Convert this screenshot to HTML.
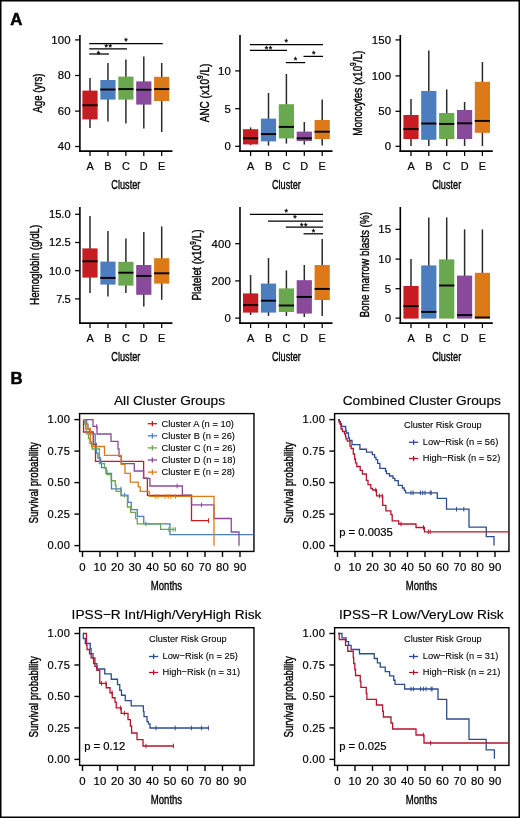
<!DOCTYPE html>
<html lang="en">
<head>
<meta charset="utf-8">
<title>Figure</title>
<style>
html,body{margin:0;padding:0;background:#fff;}
body{width:520px;height:818px;overflow:hidden;}
svg{display:block;font-family:'Liberation Sans', Arial, Helvetica, sans-serif;}
</style>
</head>
<body>
<svg width="520" height="818" viewBox="0 0 520 818">
<rect x="0" y="0" width="520" height="818" fill="#fff"/>
<rect x="0.75" y="0.75" width="518.5" height="816.5" fill="none" stroke="#000" stroke-width="1.5"/>
<line x1="79.90" y1="35.00" x2="79.90" y2="151.95" stroke="#000" stroke-width="1.6" />
<line x1="79.10" y1="151.15" x2="172.40" y2="151.15" stroke="#000" stroke-width="1.6" />
<line x1="75.10" y1="39.90" x2="79.90" y2="39.90" stroke="#000" stroke-width="1.25" />
<text transform="translate(70.90,43.80)" font-size="11.4" text-anchor="end" font-weight="normal" fill="#000" letter-spacing="0.2" stroke="#000" stroke-width="0.2" >100</text>
<line x1="75.10" y1="75.50" x2="79.90" y2="75.50" stroke="#000" stroke-width="1.25" />
<text transform="translate(70.90,79.40)" font-size="11.4" text-anchor="end" font-weight="normal" fill="#000" letter-spacing="0.2" stroke="#000" stroke-width="0.2" >80</text>
<line x1="75.10" y1="111.10" x2="79.90" y2="111.10" stroke="#000" stroke-width="1.25" />
<text transform="translate(70.90,115.00)" font-size="11.4" text-anchor="end" font-weight="normal" fill="#000" letter-spacing="0.2" stroke="#000" stroke-width="0.2" >60</text>
<line x1="75.10" y1="146.50" x2="79.90" y2="146.50" stroke="#000" stroke-width="1.25" />
<text transform="translate(70.90,150.40)" font-size="11.4" text-anchor="end" font-weight="normal" fill="#000" letter-spacing="0.2" stroke="#000" stroke-width="0.2" >40</text>
<line x1="90.00" y1="151.15" x2="90.00" y2="155.95" stroke="#000" stroke-width="1.25" />
<text transform="translate(90.00,170.05)" font-size="10.9" text-anchor="middle" font-weight="normal" fill="#000" stroke="#000" stroke-width="0.2" >A</text>
<line x1="107.95" y1="151.15" x2="107.95" y2="155.95" stroke="#000" stroke-width="1.25" />
<text transform="translate(107.95,170.05)" font-size="10.9" text-anchor="middle" font-weight="normal" fill="#000" stroke="#000" stroke-width="0.2" >B</text>
<line x1="125.90" y1="151.15" x2="125.90" y2="155.95" stroke="#000" stroke-width="1.25" />
<text transform="translate(125.90,170.05)" font-size="10.9" text-anchor="middle" font-weight="normal" fill="#000" stroke="#000" stroke-width="0.2" >C</text>
<line x1="143.80" y1="151.15" x2="143.80" y2="155.95" stroke="#000" stroke-width="1.25" />
<text transform="translate(143.80,170.05)" font-size="10.9" text-anchor="middle" font-weight="normal" fill="#000" stroke="#000" stroke-width="0.2" >D</text>
<line x1="161.70" y1="151.15" x2="161.70" y2="155.95" stroke="#000" stroke-width="1.25" />
<text transform="translate(161.70,170.05)" font-size="10.9" text-anchor="middle" font-weight="normal" fill="#000" stroke="#000" stroke-width="0.2" >E</text>
<text transform="translate(125.85,189.25) scale(0.6698540145985402,1)" font-size="13.7" text-anchor="middle" font-weight="normal" fill="#000" stroke="#000" stroke-width="0.4" >Cluster</text>
<text transform="translate(41.80,93.10) rotate(-90) scale(0.7057737226277373,1)" font-size="13.7" text-anchor="middle" fill="#000" stroke="#000" stroke-width="0.4">Age (yrs)</text>
<line x1="90.00" y1="78.00" x2="90.00" y2="128.00" stroke="#2b2b2b" stroke-width="1.5" />
<rect x="82.40" y="90.60" width="15.2" height="28.80" fill="#C51D21"/>
<line x1="82.40" y1="105.30" x2="97.60" y2="105.30" stroke="#000" stroke-width="1.9" />
<line x1="107.95" y1="63.00" x2="107.95" y2="121.60" stroke="#2b2b2b" stroke-width="1.5" />
<rect x="100.35" y="80.00" width="15.2" height="19.60" fill="#4C7DBE"/>
<line x1="100.35" y1="89.50" x2="115.55" y2="89.50" stroke="#000" stroke-width="1.9" />
<line x1="125.90" y1="59.40" x2="125.90" y2="123.60" stroke="#2b2b2b" stroke-width="1.5" />
<rect x="118.30" y="76.60" width="15.2" height="23.00" fill="#6AA84F"/>
<line x1="118.30" y1="89.10" x2="133.50" y2="89.10" stroke="#000" stroke-width="1.9" />
<line x1="143.80" y1="56.60" x2="143.80" y2="128.60" stroke="#2b2b2b" stroke-width="1.5" />
<rect x="136.20" y="81.40" width="15.2" height="23.20" fill="#8A4A9C"/>
<line x1="136.20" y1="89.70" x2="151.40" y2="89.70" stroke="#000" stroke-width="1.9" />
<line x1="161.70" y1="63.00" x2="161.70" y2="132.00" stroke="#2b2b2b" stroke-width="1.5" />
<rect x="154.10" y="76.80" width="15.2" height="24.20" fill="#DC7A1A"/>
<line x1="154.10" y1="89.10" x2="169.30" y2="89.10" stroke="#000" stroke-width="1.9" />
<line x1="89.20" y1="43.60" x2="162.80" y2="43.60" stroke="#000" stroke-width="1.25" />
<text transform="translate(124.25,43.71)" font-size="9.0" text-anchor="start" font-weight="normal" fill="#000" stroke="#000" stroke-width="0.3" >*</text>
<line x1="89.20" y1="48.80" x2="127.00" y2="48.80" stroke="#000" stroke-width="1.25" />
<text transform="translate(104.50,49.81)" font-size="9.0" text-anchor="start" font-weight="normal" fill="#000" letter-spacing="0.6" stroke="#000" stroke-width="0.3" >**</text>
<line x1="89.20" y1="54.00" x2="109.00" y2="54.00" stroke="#000" stroke-width="1.25" />
<text transform="translate(96.85,56.71)" font-size="9.0" text-anchor="start" font-weight="normal" fill="#000" stroke="#000" stroke-width="0.3" >*</text>
<line x1="240.00" y1="35.00" x2="240.00" y2="151.95" stroke="#000" stroke-width="1.6" />
<line x1="239.20" y1="151.15" x2="332.50" y2="151.15" stroke="#000" stroke-width="1.6" />
<line x1="235.20" y1="70.90" x2="240.00" y2="70.90" stroke="#000" stroke-width="1.25" />
<text transform="translate(231.00,74.80)" font-size="11.4" text-anchor="end" font-weight="normal" fill="#000" letter-spacing="0.2" stroke="#000" stroke-width="0.2" >10</text>
<line x1="235.20" y1="108.70" x2="240.00" y2="108.70" stroke="#000" stroke-width="1.25" />
<text transform="translate(231.00,112.60)" font-size="11.4" text-anchor="end" font-weight="normal" fill="#000" letter-spacing="0.2" stroke="#000" stroke-width="0.2" >5</text>
<line x1="235.20" y1="146.30" x2="240.00" y2="146.30" stroke="#000" stroke-width="1.25" />
<text transform="translate(231.00,150.20)" font-size="11.4" text-anchor="end" font-weight="normal" fill="#000" letter-spacing="0.2" stroke="#000" stroke-width="0.2" >0</text>
<line x1="250.60" y1="151.15" x2="250.60" y2="155.95" stroke="#000" stroke-width="1.25" />
<text transform="translate(250.60,170.05)" font-size="10.9" text-anchor="middle" font-weight="normal" fill="#000" stroke="#000" stroke-width="0.2" >A</text>
<line x1="268.50" y1="151.15" x2="268.50" y2="155.95" stroke="#000" stroke-width="1.25" />
<text transform="translate(268.50,170.05)" font-size="10.9" text-anchor="middle" font-weight="normal" fill="#000" stroke="#000" stroke-width="0.2" >B</text>
<line x1="286.40" y1="151.15" x2="286.40" y2="155.95" stroke="#000" stroke-width="1.25" />
<text transform="translate(286.40,170.05)" font-size="10.9" text-anchor="middle" font-weight="normal" fill="#000" stroke="#000" stroke-width="0.2" >C</text>
<line x1="304.30" y1="151.15" x2="304.30" y2="155.95" stroke="#000" stroke-width="1.25" />
<text transform="translate(304.30,170.05)" font-size="10.9" text-anchor="middle" font-weight="normal" fill="#000" stroke="#000" stroke-width="0.2" >D</text>
<line x1="322.20" y1="151.15" x2="322.20" y2="155.95" stroke="#000" stroke-width="1.25" />
<text transform="translate(322.20,170.05)" font-size="10.9" text-anchor="middle" font-weight="normal" fill="#000" stroke="#000" stroke-width="0.2" >E</text>
<text transform="translate(286.40,189.25) scale(0.6698540145985402,1)" font-size="13.7" text-anchor="middle" font-weight="normal" fill="#000" stroke="#000" stroke-width="0.4" >Cluster</text>
<text transform="translate(208.90,93.00) rotate(-90) scale(0.72907299270073,1)" font-size="13.7" text-anchor="middle" fill="#000" stroke="#000" stroke-width="0.4">ANC (x10<tspan font-size="9" dy="-5.6">9</tspan><tspan dy="5.6">/L)</tspan></text>
<line x1="250.60" y1="127.40" x2="250.60" y2="145.20" stroke="#2b2b2b" stroke-width="1.5" />
<rect x="243.00" y="129.20" width="15.2" height="15.20" fill="#C51D21"/>
<line x1="243.00" y1="138.30" x2="258.20" y2="138.30" stroke="#000" stroke-width="1.9" />
<line x1="268.50" y1="93.00" x2="268.50" y2="145.60" stroke="#2b2b2b" stroke-width="1.5" />
<rect x="260.90" y="118.60" width="15.2" height="22.80" fill="#4C7DBE"/>
<line x1="260.90" y1="134.10" x2="276.10" y2="134.10" stroke="#000" stroke-width="1.9" />
<line x1="286.40" y1="74.00" x2="286.40" y2="143.60" stroke="#2b2b2b" stroke-width="1.5" />
<rect x="278.80" y="104.20" width="15.2" height="34.20" fill="#6AA84F"/>
<line x1="278.80" y1="126.90" x2="294.00" y2="126.90" stroke="#000" stroke-width="1.9" />
<line x1="304.30" y1="122.00" x2="304.30" y2="144.60" stroke="#2b2b2b" stroke-width="1.5" />
<rect x="296.70" y="131.60" width="15.2" height="9.40" fill="#8A4A9C"/>
<line x1="296.70" y1="138.30" x2="311.90" y2="138.30" stroke="#000" stroke-width="1.9" />
<line x1="322.20" y1="99.60" x2="322.20" y2="145.60" stroke="#2b2b2b" stroke-width="1.5" />
<rect x="314.60" y="120.00" width="15.2" height="19.00" fill="#DC7A1A"/>
<line x1="314.60" y1="131.70" x2="329.80" y2="131.70" stroke="#000" stroke-width="1.9" />
<line x1="249.90" y1="44.50" x2="323.00" y2="44.50" stroke="#000" stroke-width="1.25" />
<text transform="translate(284.45,44.96)" font-size="9.0" text-anchor="start" font-weight="normal" fill="#000" stroke="#000" stroke-width="0.3" >*</text>
<line x1="249.90" y1="50.30" x2="287.00" y2="50.30" stroke="#000" stroke-width="1.25" />
<text transform="translate(264.70,52.41)" font-size="9.0" text-anchor="start" font-weight="normal" fill="#000" letter-spacing="0.6" stroke="#000" stroke-width="0.3" >**</text>
<line x1="285.80" y1="62.60" x2="305.20" y2="62.60" stroke="#000" stroke-width="1.25" />
<text transform="translate(293.75,63.11)" font-size="9.0" text-anchor="start" font-weight="normal" fill="#000" stroke="#000" stroke-width="0.3" >*</text>
<line x1="303.50" y1="56.40" x2="323.00" y2="56.40" stroke="#000" stroke-width="1.25" />
<text transform="translate(311.95,57.11)" font-size="9.0" text-anchor="start" font-weight="normal" fill="#000" stroke="#000" stroke-width="0.3" >*</text>
<line x1="400.30" y1="35.00" x2="400.30" y2="151.95" stroke="#000" stroke-width="1.6" />
<line x1="399.50" y1="151.15" x2="492.80" y2="151.15" stroke="#000" stroke-width="1.6" />
<line x1="395.50" y1="39.90" x2="400.30" y2="39.90" stroke="#000" stroke-width="1.25" />
<text transform="translate(391.30,43.80)" font-size="11.4" text-anchor="end" font-weight="normal" fill="#000" letter-spacing="0.2" stroke="#000" stroke-width="0.2" >150</text>
<line x1="395.50" y1="75.90" x2="400.30" y2="75.90" stroke="#000" stroke-width="1.25" />
<text transform="translate(391.30,79.80)" font-size="11.4" text-anchor="end" font-weight="normal" fill="#000" letter-spacing="0.2" stroke="#000" stroke-width="0.2" >100</text>
<line x1="395.50" y1="111.30" x2="400.30" y2="111.30" stroke="#000" stroke-width="1.25" />
<text transform="translate(391.30,115.20)" font-size="11.4" text-anchor="end" font-weight="normal" fill="#000" letter-spacing="0.2" stroke="#000" stroke-width="0.2" >50</text>
<line x1="395.50" y1="146.30" x2="400.30" y2="146.30" stroke="#000" stroke-width="1.25" />
<text transform="translate(391.30,150.20)" font-size="11.4" text-anchor="end" font-weight="normal" fill="#000" letter-spacing="0.2" stroke="#000" stroke-width="0.2" >0</text>
<line x1="411.00" y1="151.15" x2="411.00" y2="155.95" stroke="#000" stroke-width="1.25" />
<text transform="translate(411.00,170.05)" font-size="10.9" text-anchor="middle" font-weight="normal" fill="#000" stroke="#000" stroke-width="0.2" >A</text>
<line x1="428.80" y1="151.15" x2="428.80" y2="155.95" stroke="#000" stroke-width="1.25" />
<text transform="translate(428.80,170.05)" font-size="10.9" text-anchor="middle" font-weight="normal" fill="#000" stroke="#000" stroke-width="0.2" >B</text>
<line x1="446.70" y1="151.15" x2="446.70" y2="155.95" stroke="#000" stroke-width="1.25" />
<text transform="translate(446.70,170.05)" font-size="10.9" text-anchor="middle" font-weight="normal" fill="#000" stroke="#000" stroke-width="0.2" >C</text>
<line x1="464.60" y1="151.15" x2="464.60" y2="155.95" stroke="#000" stroke-width="1.25" />
<text transform="translate(464.60,170.05)" font-size="10.9" text-anchor="middle" font-weight="normal" fill="#000" stroke="#000" stroke-width="0.2" >D</text>
<line x1="482.40" y1="151.15" x2="482.40" y2="155.95" stroke="#000" stroke-width="1.25" />
<text transform="translate(482.40,170.05)" font-size="10.9" text-anchor="middle" font-weight="normal" fill="#000" stroke="#000" stroke-width="0.2" >E</text>
<text transform="translate(446.70,189.25) scale(0.6698540145985402,1)" font-size="13.7" text-anchor="middle" font-weight="normal" fill="#000" stroke="#000" stroke-width="0.4" >Cluster</text>
<text transform="translate(361.80,93.20) rotate(-90) scale(0.7232481751824819,1)" font-size="13.7" text-anchor="middle" fill="#000" stroke="#000" stroke-width="0.4">Monocytes (x10<tspan font-size="9" dy="-5.6">9</tspan><tspan dy="5.6">/L)</tspan></text>
<line x1="411.00" y1="99.00" x2="411.00" y2="146.00" stroke="#2b2b2b" stroke-width="1.5" />
<rect x="403.40" y="115.00" width="15.2" height="24.00" fill="#C51D21"/>
<line x1="403.40" y1="129.10" x2="418.60" y2="129.10" stroke="#000" stroke-width="1.9" />
<line x1="428.80" y1="50.60" x2="428.80" y2="146.00" stroke="#2b2b2b" stroke-width="1.5" />
<rect x="421.20" y="91.00" width="15.2" height="48.80" fill="#4C7DBE"/>
<line x1="421.20" y1="123.50" x2="436.40" y2="123.50" stroke="#000" stroke-width="1.9" />
<line x1="446.70" y1="89.40" x2="446.70" y2="146.00" stroke="#2b2b2b" stroke-width="1.5" />
<rect x="439.10" y="113.00" width="15.2" height="26.00" fill="#6AA84F"/>
<line x1="439.10" y1="123.90" x2="454.30" y2="123.90" stroke="#000" stroke-width="1.9" />
<line x1="464.60" y1="102.00" x2="464.60" y2="146.00" stroke="#2b2b2b" stroke-width="1.5" />
<rect x="457.00" y="110.00" width="15.2" height="29.00" fill="#8A4A9C"/>
<line x1="457.00" y1="123.30" x2="472.20" y2="123.30" stroke="#000" stroke-width="1.9" />
<line x1="482.40" y1="62.00" x2="482.40" y2="146.00" stroke="#2b2b2b" stroke-width="1.5" />
<rect x="474.80" y="81.80" width="15.2" height="51.00" fill="#DC7A1A"/>
<line x1="474.80" y1="120.90" x2="490.00" y2="120.90" stroke="#000" stroke-width="1.9" />
<line x1="79.90" y1="207.00" x2="79.90" y2="323.95" stroke="#000" stroke-width="1.6" />
<line x1="79.10" y1="323.15" x2="172.40" y2="323.15" stroke="#000" stroke-width="1.6" />
<line x1="75.10" y1="214.30" x2="79.90" y2="214.30" stroke="#000" stroke-width="1.25" />
<text transform="translate(70.70,218.20)" font-size="11.2" text-anchor="end" font-weight="normal" fill="#000" stroke="#000" stroke-width="0.2" >15.0</text>
<line x1="75.10" y1="242.50" x2="79.90" y2="242.50" stroke="#000" stroke-width="1.25" />
<text transform="translate(70.70,246.40)" font-size="11.2" text-anchor="end" font-weight="normal" fill="#000" stroke="#000" stroke-width="0.2" >12.5</text>
<line x1="75.10" y1="270.70" x2="79.90" y2="270.70" stroke="#000" stroke-width="1.25" />
<text transform="translate(70.70,274.60)" font-size="11.2" text-anchor="end" font-weight="normal" fill="#000" stroke="#000" stroke-width="0.2" >10.0</text>
<line x1="75.10" y1="298.90" x2="79.90" y2="298.90" stroke="#000" stroke-width="1.25" />
<text transform="translate(70.20,302.80)" font-size="11.2" text-anchor="end" font-weight="normal" fill="#000" letter-spacing="-0.5" stroke="#000" stroke-width="0.2" >7.5</text>
<line x1="90.00" y1="323.15" x2="90.00" y2="327.95" stroke="#000" stroke-width="1.25" />
<text transform="translate(90.00,342.05)" font-size="10.9" text-anchor="middle" font-weight="normal" fill="#000" stroke="#000" stroke-width="0.2" >A</text>
<line x1="107.95" y1="323.15" x2="107.95" y2="327.95" stroke="#000" stroke-width="1.25" />
<text transform="translate(107.95,342.05)" font-size="10.9" text-anchor="middle" font-weight="normal" fill="#000" stroke="#000" stroke-width="0.2" >B</text>
<line x1="125.90" y1="323.15" x2="125.90" y2="327.95" stroke="#000" stroke-width="1.25" />
<text transform="translate(125.90,342.05)" font-size="10.9" text-anchor="middle" font-weight="normal" fill="#000" stroke="#000" stroke-width="0.2" >C</text>
<line x1="143.80" y1="323.15" x2="143.80" y2="327.95" stroke="#000" stroke-width="1.25" />
<text transform="translate(143.80,342.05)" font-size="10.9" text-anchor="middle" font-weight="normal" fill="#000" stroke="#000" stroke-width="0.2" >D</text>
<line x1="161.70" y1="323.15" x2="161.70" y2="327.95" stroke="#000" stroke-width="1.25" />
<text transform="translate(161.70,342.05)" font-size="10.9" text-anchor="middle" font-weight="normal" fill="#000" stroke="#000" stroke-width="0.2" >E</text>
<text transform="translate(125.85,361.25) scale(0.6698540145985402,1)" font-size="13.7" text-anchor="middle" font-weight="normal" fill="#000" stroke="#000" stroke-width="0.4" >Cluster</text>
<text transform="translate(38.90,264.80) rotate(-90) scale(0.7125693430656935,1)" font-size="13.7" text-anchor="middle" fill="#000" stroke="#000" stroke-width="0.4">Hemoglobin (g/dL)</text>
<line x1="90.00" y1="216.00" x2="90.00" y2="293.00" stroke="#2b2b2b" stroke-width="1.5" />
<rect x="82.40" y="248.40" width="15.2" height="29.20" fill="#C51D21"/>
<line x1="82.40" y1="261.30" x2="97.60" y2="261.30" stroke="#000" stroke-width="1.9" />
<line x1="107.95" y1="231.00" x2="107.95" y2="296.40" stroke="#2b2b2b" stroke-width="1.5" />
<rect x="100.35" y="261.60" width="15.2" height="23.00" fill="#4C7DBE"/>
<line x1="100.35" y1="277.90" x2="115.55" y2="277.90" stroke="#000" stroke-width="1.9" />
<line x1="125.90" y1="238.60" x2="125.90" y2="293.00" stroke="#2b2b2b" stroke-width="1.5" />
<rect x="118.30" y="261.80" width="15.2" height="23.80" fill="#6AA84F"/>
<line x1="118.30" y1="272.70" x2="133.50" y2="272.70" stroke="#000" stroke-width="1.9" />
<line x1="143.80" y1="232.00" x2="143.80" y2="306.60" stroke="#2b2b2b" stroke-width="1.5" />
<rect x="136.20" y="265.00" width="15.2" height="29.80" fill="#8A4A9C"/>
<line x1="136.20" y1="275.90" x2="151.40" y2="275.90" stroke="#000" stroke-width="1.9" />
<line x1="161.70" y1="226.40" x2="161.70" y2="299.80" stroke="#2b2b2b" stroke-width="1.5" />
<rect x="154.10" y="258.20" width="15.2" height="25.40" fill="#DC7A1A"/>
<line x1="154.10" y1="273.30" x2="169.30" y2="273.30" stroke="#000" stroke-width="1.9" />
<line x1="240.00" y1="207.00" x2="240.00" y2="323.95" stroke="#000" stroke-width="1.6" />
<line x1="239.20" y1="323.15" x2="332.50" y2="323.15" stroke="#000" stroke-width="1.6" />
<line x1="235.20" y1="243.70" x2="240.00" y2="243.70" stroke="#000" stroke-width="1.25" />
<text transform="translate(231.00,247.60)" font-size="11.4" text-anchor="end" font-weight="normal" fill="#000" letter-spacing="0.2" stroke="#000" stroke-width="0.2" >400</text>
<line x1="235.20" y1="280.90" x2="240.00" y2="280.90" stroke="#000" stroke-width="1.25" />
<text transform="translate(231.00,284.80)" font-size="11.4" text-anchor="end" font-weight="normal" fill="#000" letter-spacing="0.2" stroke="#000" stroke-width="0.2" >200</text>
<line x1="235.20" y1="318.10" x2="240.00" y2="318.10" stroke="#000" stroke-width="1.25" />
<text transform="translate(231.00,322.00)" font-size="11.4" text-anchor="end" font-weight="normal" fill="#000" letter-spacing="0.2" stroke="#000" stroke-width="0.2" >0</text>
<line x1="250.60" y1="323.15" x2="250.60" y2="327.95" stroke="#000" stroke-width="1.25" />
<text transform="translate(250.60,342.05)" font-size="10.9" text-anchor="middle" font-weight="normal" fill="#000" stroke="#000" stroke-width="0.2" >A</text>
<line x1="268.50" y1="323.15" x2="268.50" y2="327.95" stroke="#000" stroke-width="1.25" />
<text transform="translate(268.50,342.05)" font-size="10.9" text-anchor="middle" font-weight="normal" fill="#000" stroke="#000" stroke-width="0.2" >B</text>
<line x1="286.40" y1="323.15" x2="286.40" y2="327.95" stroke="#000" stroke-width="1.25" />
<text transform="translate(286.40,342.05)" font-size="10.9" text-anchor="middle" font-weight="normal" fill="#000" stroke="#000" stroke-width="0.2" >C</text>
<line x1="304.30" y1="323.15" x2="304.30" y2="327.95" stroke="#000" stroke-width="1.25" />
<text transform="translate(304.30,342.05)" font-size="10.9" text-anchor="middle" font-weight="normal" fill="#000" stroke="#000" stroke-width="0.2" >D</text>
<line x1="322.20" y1="323.15" x2="322.20" y2="327.95" stroke="#000" stroke-width="1.25" />
<text transform="translate(322.20,342.05)" font-size="10.9" text-anchor="middle" font-weight="normal" fill="#000" stroke="#000" stroke-width="0.2" >E</text>
<text transform="translate(286.40,361.25) scale(0.6698540145985402,1)" font-size="13.7" text-anchor="middle" font-weight="normal" fill="#000" stroke="#000" stroke-width="0.4" >Cluster</text>
<text transform="translate(201.20,265.00) rotate(-90) scale(0.7329562043795621,1)" font-size="13.7" text-anchor="middle" fill="#000" stroke="#000" stroke-width="0.4">Platelet (x10<tspan font-size="9" dy="-5.6">9</tspan><tspan dy="5.6">/L)</tspan></text>
<line x1="250.60" y1="275.00" x2="250.60" y2="315.00" stroke="#2b2b2b" stroke-width="1.5" />
<rect x="243.00" y="293.40" width="15.2" height="19.20" fill="#C51D21"/>
<line x1="243.00" y1="305.10" x2="258.20" y2="305.10" stroke="#000" stroke-width="1.9" />
<line x1="268.50" y1="258.00" x2="268.50" y2="316.00" stroke="#2b2b2b" stroke-width="1.5" />
<rect x="260.90" y="283.60" width="15.2" height="29.00" fill="#4C7DBE"/>
<line x1="260.90" y1="300.70" x2="276.10" y2="300.70" stroke="#000" stroke-width="1.9" />
<line x1="286.40" y1="270.40" x2="286.40" y2="316.00" stroke="#2b2b2b" stroke-width="1.5" />
<rect x="278.80" y="288.40" width="15.2" height="23.60" fill="#6AA84F"/>
<line x1="278.80" y1="305.50" x2="294.00" y2="305.50" stroke="#000" stroke-width="1.9" />
<line x1="304.30" y1="265.00" x2="304.30" y2="317.00" stroke="#2b2b2b" stroke-width="1.5" />
<rect x="296.70" y="280.20" width="15.2" height="33.40" fill="#8A4A9C"/>
<line x1="296.70" y1="296.90" x2="311.90" y2="296.90" stroke="#000" stroke-width="1.9" />
<line x1="322.20" y1="239.00" x2="322.20" y2="316.00" stroke="#2b2b2b" stroke-width="1.5" />
<rect x="314.60" y="265.00" width="15.2" height="35.00" fill="#DC7A1A"/>
<line x1="314.60" y1="288.90" x2="329.80" y2="288.90" stroke="#000" stroke-width="1.9" />
<line x1="249.90" y1="214.40" x2="323.00" y2="214.40" stroke="#000" stroke-width="1.25" />
<text transform="translate(284.45,214.51)" font-size="9.0" text-anchor="start" font-weight="normal" fill="#000" stroke="#000" stroke-width="0.3" >*</text>
<line x1="268.00" y1="221.00" x2="323.00" y2="221.00" stroke="#000" stroke-width="1.25" />
<text transform="translate(293.25,221.31)" font-size="9.0" text-anchor="start" font-weight="normal" fill="#000" stroke="#000" stroke-width="0.3" >*</text>
<line x1="285.80" y1="227.20" x2="323.00" y2="227.20" stroke="#000" stroke-width="1.25" />
<text transform="translate(299.90,228.71)" font-size="9.0" text-anchor="start" font-weight="normal" fill="#000" letter-spacing="0.6" stroke="#000" stroke-width="0.3" >**</text>
<line x1="303.50" y1="233.80" x2="323.00" y2="233.80" stroke="#000" stroke-width="1.25" />
<text transform="translate(311.75,234.61)" font-size="9.0" text-anchor="start" font-weight="normal" fill="#000" stroke="#000" stroke-width="0.3" >*</text>
<line x1="400.30" y1="207.00" x2="400.30" y2="323.95" stroke="#000" stroke-width="1.6" />
<line x1="399.50" y1="323.15" x2="492.80" y2="323.15" stroke="#000" stroke-width="1.6" />
<line x1="395.50" y1="229.30" x2="400.30" y2="229.30" stroke="#000" stroke-width="1.25" />
<text transform="translate(391.30,233.20)" font-size="11.4" text-anchor="end" font-weight="normal" fill="#000" letter-spacing="0.2" stroke="#000" stroke-width="0.2" >15</text>
<line x1="395.50" y1="259.10" x2="400.30" y2="259.10" stroke="#000" stroke-width="1.25" />
<text transform="translate(391.30,263.00)" font-size="11.4" text-anchor="end" font-weight="normal" fill="#000" letter-spacing="0.2" stroke="#000" stroke-width="0.2" >10</text>
<line x1="395.50" y1="288.70" x2="400.30" y2="288.70" stroke="#000" stroke-width="1.25" />
<text transform="translate(391.30,292.60)" font-size="11.4" text-anchor="end" font-weight="normal" fill="#000" letter-spacing="0.2" stroke="#000" stroke-width="0.2" >5</text>
<line x1="395.50" y1="318.10" x2="400.30" y2="318.10" stroke="#000" stroke-width="1.25" />
<text transform="translate(391.30,322.00)" font-size="11.4" text-anchor="end" font-weight="normal" fill="#000" letter-spacing="0.2" stroke="#000" stroke-width="0.2" >0</text>
<line x1="411.00" y1="323.15" x2="411.00" y2="327.95" stroke="#000" stroke-width="1.25" />
<text transform="translate(411.00,342.05)" font-size="10.9" text-anchor="middle" font-weight="normal" fill="#000" stroke="#000" stroke-width="0.2" >A</text>
<line x1="428.80" y1="323.15" x2="428.80" y2="327.95" stroke="#000" stroke-width="1.25" />
<text transform="translate(428.80,342.05)" font-size="10.9" text-anchor="middle" font-weight="normal" fill="#000" stroke="#000" stroke-width="0.2" >B</text>
<line x1="446.70" y1="323.15" x2="446.70" y2="327.95" stroke="#000" stroke-width="1.25" />
<text transform="translate(446.70,342.05)" font-size="10.9" text-anchor="middle" font-weight="normal" fill="#000" stroke="#000" stroke-width="0.2" >C</text>
<line x1="464.60" y1="323.15" x2="464.60" y2="327.95" stroke="#000" stroke-width="1.25" />
<text transform="translate(464.60,342.05)" font-size="10.9" text-anchor="middle" font-weight="normal" fill="#000" stroke="#000" stroke-width="0.2" >D</text>
<line x1="482.40" y1="323.15" x2="482.40" y2="327.95" stroke="#000" stroke-width="1.25" />
<text transform="translate(482.40,342.05)" font-size="10.9" text-anchor="middle" font-weight="normal" fill="#000" stroke="#000" stroke-width="0.2" >E</text>
<text transform="translate(446.70,361.25) scale(0.6698540145985402,1)" font-size="13.7" text-anchor="middle" font-weight="normal" fill="#000" stroke="#000" stroke-width="0.4" >Cluster</text>
<text transform="translate(368.90,264.80) rotate(-90) scale(0.7232481751824819,1)" font-size="13.7" text-anchor="middle" fill="#000" stroke="#000" stroke-width="0.4">Bone marrow blasts (%)</text>
<line x1="411.00" y1="259.00" x2="411.00" y2="318.00" stroke="#2b2b2b" stroke-width="1.5" />
<rect x="403.40" y="286.00" width="15.2" height="32.60" fill="#C51D21"/>
<line x1="403.40" y1="306.10" x2="418.60" y2="306.10" stroke="#000" stroke-width="1.9" />
<line x1="428.80" y1="217.40" x2="428.80" y2="318.00" stroke="#2b2b2b" stroke-width="1.5" />
<rect x="421.20" y="265.40" width="15.2" height="53.20" fill="#4C7DBE"/>
<line x1="421.20" y1="311.90" x2="436.40" y2="311.90" stroke="#000" stroke-width="1.9" />
<line x1="446.70" y1="217.40" x2="446.70" y2="318.00" stroke="#2b2b2b" stroke-width="1.5" />
<rect x="439.10" y="259.40" width="15.2" height="59.20" fill="#6AA84F"/>
<line x1="439.10" y1="285.50" x2="454.30" y2="285.50" stroke="#000" stroke-width="1.9" />
<line x1="464.60" y1="229.40" x2="464.60" y2="318.00" stroke="#2b2b2b" stroke-width="1.5" />
<rect x="457.00" y="275.60" width="15.2" height="43.00" fill="#8A4A9C"/>
<line x1="457.00" y1="315.10" x2="472.20" y2="315.10" stroke="#000" stroke-width="1.9" />
<line x1="482.40" y1="229.40" x2="482.40" y2="318.00" stroke="#2b2b2b" stroke-width="1.5" />
<rect x="474.80" y="272.80" width="15.2" height="45.80" fill="#DC7A1A"/>
<line x1="474.80" y1="317.50" x2="490.00" y2="317.50" stroke="#000" stroke-width="1.9" />
<text transform="translate(10.30,24.60)" font-size="16.8" text-anchor="start" font-weight="bold" fill="#000" stroke="#000" stroke-width="0.5" >A</text>
<text transform="translate(10.50,383.60)" font-size="16.8" text-anchor="start" font-weight="bold" fill="#000" stroke="#000" stroke-width="0.5" >B</text>
<rect x="79.60" y="413.60" width="174.35" height="137.85" fill="none" stroke="#000" stroke-width="1.4"/>
<line x1="82.50" y1="551.45" x2="82.50" y2="556.95" stroke="#000" stroke-width="1.4" />
<text transform="translate(82.50,571.25)" font-size="11.4" text-anchor="middle" font-weight="normal" fill="#000" letter-spacing="0.2" stroke="#000" stroke-width="0.2" >0</text>
<line x1="100.00" y1="551.45" x2="100.00" y2="556.95" stroke="#000" stroke-width="1.4" />
<text transform="translate(100.00,571.25)" font-size="11.4" text-anchor="middle" font-weight="normal" fill="#000" letter-spacing="0.2" stroke="#000" stroke-width="0.2" >10</text>
<line x1="117.50" y1="551.45" x2="117.50" y2="556.95" stroke="#000" stroke-width="1.4" />
<text transform="translate(117.50,571.25)" font-size="11.4" text-anchor="middle" font-weight="normal" fill="#000" letter-spacing="0.2" stroke="#000" stroke-width="0.2" >20</text>
<line x1="135.00" y1="551.45" x2="135.00" y2="556.95" stroke="#000" stroke-width="1.4" />
<text transform="translate(135.00,571.25)" font-size="11.4" text-anchor="middle" font-weight="normal" fill="#000" letter-spacing="0.2" stroke="#000" stroke-width="0.2" >30</text>
<line x1="152.50" y1="551.45" x2="152.50" y2="556.95" stroke="#000" stroke-width="1.4" />
<text transform="translate(152.50,571.25)" font-size="11.4" text-anchor="middle" font-weight="normal" fill="#000" letter-spacing="0.2" stroke="#000" stroke-width="0.2" >40</text>
<line x1="170.00" y1="551.45" x2="170.00" y2="556.95" stroke="#000" stroke-width="1.4" />
<text transform="translate(170.00,571.25)" font-size="11.4" text-anchor="middle" font-weight="normal" fill="#000" letter-spacing="0.2" stroke="#000" stroke-width="0.2" >50</text>
<line x1="187.50" y1="551.45" x2="187.50" y2="556.95" stroke="#000" stroke-width="1.4" />
<text transform="translate(187.50,571.25)" font-size="11.4" text-anchor="middle" font-weight="normal" fill="#000" letter-spacing="0.2" stroke="#000" stroke-width="0.2" >60</text>
<line x1="205.00" y1="551.45" x2="205.00" y2="556.95" stroke="#000" stroke-width="1.4" />
<text transform="translate(205.00,571.25)" font-size="11.4" text-anchor="middle" font-weight="normal" fill="#000" letter-spacing="0.2" stroke="#000" stroke-width="0.2" >70</text>
<line x1="222.50" y1="551.45" x2="222.50" y2="556.95" stroke="#000" stroke-width="1.4" />
<text transform="translate(222.50,571.25)" font-size="11.4" text-anchor="middle" font-weight="normal" fill="#000" letter-spacing="0.2" stroke="#000" stroke-width="0.2" >80</text>
<line x1="240.00" y1="551.45" x2="240.00" y2="556.95" stroke="#000" stroke-width="1.4" />
<text transform="translate(240.00,571.25)" font-size="11.4" text-anchor="middle" font-weight="normal" fill="#000" letter-spacing="0.2" stroke="#000" stroke-width="0.2" >90</text>
<line x1="74.40" y1="419.60" x2="79.60" y2="419.60" stroke="#000" stroke-width="1.4" />
<text transform="translate(70.10,423.35)" font-size="11.1" text-anchor="end" font-weight="normal" fill="#000" letter-spacing="0.25" stroke="#000" stroke-width="0.2" >1.00</text>
<line x1="74.40" y1="451.10" x2="79.60" y2="451.10" stroke="#000" stroke-width="1.4" />
<text transform="translate(70.10,454.85)" font-size="11.1" text-anchor="end" font-weight="normal" fill="#000" letter-spacing="0.25" stroke="#000" stroke-width="0.2" >0.75</text>
<line x1="74.40" y1="482.60" x2="79.60" y2="482.60" stroke="#000" stroke-width="1.4" />
<text transform="translate(70.10,486.35)" font-size="11.1" text-anchor="end" font-weight="normal" fill="#000" letter-spacing="0.25" stroke="#000" stroke-width="0.2" >0.50</text>
<line x1="74.40" y1="514.10" x2="79.60" y2="514.10" stroke="#000" stroke-width="1.4" />
<text transform="translate(70.10,517.85)" font-size="11.1" text-anchor="end" font-weight="normal" fill="#000" letter-spacing="0.25" stroke="#000" stroke-width="0.2" >0.25</text>
<line x1="74.40" y1="545.60" x2="79.60" y2="545.60" stroke="#000" stroke-width="1.4" />
<text transform="translate(70.10,549.35)" font-size="11.1" text-anchor="end" font-weight="normal" fill="#000" letter-spacing="0.25" stroke="#000" stroke-width="0.2" >0.00</text>
<text transform="translate(166.47,590.05) scale(0.6989781021897811,1)" font-size="13.7" text-anchor="middle" font-weight="normal" fill="#000" stroke="#000" stroke-width="0.4" >Months</text>
<text transform="translate(38.20,482.83) rotate(-90) scale(0.7077153284671533,1)" font-size="13.7" text-anchor="middle" fill="#000" stroke="#000" stroke-width="0.4">Survival probability</text>
<text transform="translate(169.50,404.90)" font-size="13.7" text-anchor="middle" font-weight="normal" fill="#000" stroke="#000" stroke-width="0.15" >All Cluster Groups</text>
<path d="M83.00,419.60H83.50V432.00H93.20V444.50H95.50V461.40H143.60V478.25H147.40V495.45H191.50V520.60H208.75" fill="none" stroke="#C51D21" stroke-width="1.3" stroke-linejoin="miter"/>
<path d="M208.50,518.30V522.90" fill="none" stroke="#C51D21" stroke-width="0.98"/>
<path d="M83.00,419.60H86.60V424.20H88.00V429.00H89.50V433.90H95.20V443.50H96.40V453.20H98.00V458.00H100.60V462.90H101.50V467.70H106.00V473.50H111.50V488.90H121.10V495.10H128.00V502.40H131.25V509.60H137.25V516.40H143.75V523.80H170.00V534.60H253.50" fill="none" stroke="#4C7DBE" stroke-width="1.3" stroke-linejoin="miter"/>
<path d="M120.90,486.60V491.20M124.50,492.80V497.40M146.00,521.50V526.10" fill="none" stroke="#4C7DBE" stroke-width="0.98"/>
<path d="M83.00,419.60H84.60V424.20H85.50V429.00H86.50V433.90H88.50V438.70H90.00V443.50H92.20V449.00H99.40V463.60H104.50V468.00H106.10V470.75H107.00V474.50H111.10V480.75H115.25V485.10H116.10V491.40H121.10V495.90H127.40V507.00H130.60V512.40H135.60V518.50H137.25V523.80H160.60V529.40H175.60" fill="none" stroke="#6AA84F" stroke-width="1.3" stroke-linejoin="miter"/>
<path d="M168.75,527.10V531.70M173.10,527.10V531.70M175.40,527.10V531.70" fill="none" stroke="#6AA84F" stroke-width="0.98"/>
<path d="M83.00,419.60H93.00V426.40H97.00V434.00H111.00V441.40H118.00V448.90H119.00V456.30H121.30V463.60H134.30V471.00H143.60V478.40H149.90V486.00H182.40V495.10H191.50V504.90H214.00V518.50H231.25V532.00H239.00V545.70H239.00" fill="none" stroke="#8A4A9C" stroke-width="1.3" stroke-linejoin="miter"/>
<path d="M96.70,424.10V428.70M177.10,483.70V488.30M201.50,502.60V507.20" fill="none" stroke="#8A4A9C" stroke-width="0.98"/>
<path d="M83.00,419.60H85.40V424.00H87.10V428.50H90.40V442.00H91.50V446.50H104.50V455.40H121.20V464.30H125.00V473.30H130.30V482.20H138.25V486.80H140.25V491.30H149.25V496.40H214.00V545.70H214.00" fill="none" stroke="#DC7A1A" stroke-width="1.3" stroke-linejoin="miter"/>
<path d="M155.75,494.10V498.70M158.00,494.10V498.70M164.90,494.10V498.70M168.25,494.10V498.70M170.75,494.10V498.70M175.50,494.10V498.70" fill="none" stroke="#DC7A1A" stroke-width="0.98"/>
<line x1="147.70" y1="423.70" x2="157.00" y2="423.70" stroke="#C51D21" stroke-width="1.3" />
<line x1="152.35" y1="421.10" x2="152.35" y2="426.30" stroke="#C51D21" stroke-width="1.3" />
<text transform="translate(161.50,426.90)" font-size="9.35" text-anchor="start" font-weight="normal" fill="#000" stroke="#000" stroke-width="0.1" >Cluster A (n = 10)</text>
<line x1="147.70" y1="435.80" x2="157.00" y2="435.80" stroke="#4C7DBE" stroke-width="1.3" />
<line x1="152.35" y1="433.20" x2="152.35" y2="438.40" stroke="#4C7DBE" stroke-width="1.3" />
<text transform="translate(161.50,439.00)" font-size="9.35" text-anchor="start" font-weight="normal" fill="#000" stroke="#000" stroke-width="0.1" >Cluster B (n = 26)</text>
<line x1="147.70" y1="447.90" x2="157.00" y2="447.90" stroke="#6AA84F" stroke-width="1.3" />
<line x1="152.35" y1="445.30" x2="152.35" y2="450.50" stroke="#6AA84F" stroke-width="1.3" />
<text transform="translate(161.50,451.10)" font-size="9.35" text-anchor="start" font-weight="normal" fill="#000" stroke="#000" stroke-width="0.1" >Cluster C (n = 26)</text>
<line x1="147.70" y1="460.00" x2="157.00" y2="460.00" stroke="#8A4A9C" stroke-width="1.3" />
<line x1="152.35" y1="457.40" x2="152.35" y2="462.60" stroke="#8A4A9C" stroke-width="1.3" />
<text transform="translate(161.50,463.20)" font-size="9.35" text-anchor="start" font-weight="normal" fill="#000" stroke="#000" stroke-width="0.1" >Cluster D (n = 18)</text>
<line x1="147.70" y1="472.10" x2="157.00" y2="472.10" stroke="#DC7A1A" stroke-width="1.3" />
<line x1="152.35" y1="469.50" x2="152.35" y2="474.70" stroke="#DC7A1A" stroke-width="1.3" />
<text transform="translate(161.50,475.30)" font-size="9.35" text-anchor="start" font-weight="normal" fill="#000" stroke="#000" stroke-width="0.1" >Cluster E (n = 28)</text>
<rect x="334.60" y="413.60" width="174.35" height="137.85" fill="none" stroke="#000" stroke-width="1.4"/>
<line x1="337.50" y1="551.45" x2="337.50" y2="556.95" stroke="#000" stroke-width="1.4" />
<text transform="translate(337.50,571.25)" font-size="11.4" text-anchor="middle" font-weight="normal" fill="#000" letter-spacing="0.2" stroke="#000" stroke-width="0.2" >0</text>
<line x1="355.00" y1="551.45" x2="355.00" y2="556.95" stroke="#000" stroke-width="1.4" />
<text transform="translate(355.00,571.25)" font-size="11.4" text-anchor="middle" font-weight="normal" fill="#000" letter-spacing="0.2" stroke="#000" stroke-width="0.2" >10</text>
<line x1="372.50" y1="551.45" x2="372.50" y2="556.95" stroke="#000" stroke-width="1.4" />
<text transform="translate(372.50,571.25)" font-size="11.4" text-anchor="middle" font-weight="normal" fill="#000" letter-spacing="0.2" stroke="#000" stroke-width="0.2" >20</text>
<line x1="390.00" y1="551.45" x2="390.00" y2="556.95" stroke="#000" stroke-width="1.4" />
<text transform="translate(390.00,571.25)" font-size="11.4" text-anchor="middle" font-weight="normal" fill="#000" letter-spacing="0.2" stroke="#000" stroke-width="0.2" >30</text>
<line x1="407.50" y1="551.45" x2="407.50" y2="556.95" stroke="#000" stroke-width="1.4" />
<text transform="translate(407.50,571.25)" font-size="11.4" text-anchor="middle" font-weight="normal" fill="#000" letter-spacing="0.2" stroke="#000" stroke-width="0.2" >40</text>
<line x1="425.00" y1="551.45" x2="425.00" y2="556.95" stroke="#000" stroke-width="1.4" />
<text transform="translate(425.00,571.25)" font-size="11.4" text-anchor="middle" font-weight="normal" fill="#000" letter-spacing="0.2" stroke="#000" stroke-width="0.2" >50</text>
<line x1="442.50" y1="551.45" x2="442.50" y2="556.95" stroke="#000" stroke-width="1.4" />
<text transform="translate(442.50,571.25)" font-size="11.4" text-anchor="middle" font-weight="normal" fill="#000" letter-spacing="0.2" stroke="#000" stroke-width="0.2" >60</text>
<line x1="460.00" y1="551.45" x2="460.00" y2="556.95" stroke="#000" stroke-width="1.4" />
<text transform="translate(460.00,571.25)" font-size="11.4" text-anchor="middle" font-weight="normal" fill="#000" letter-spacing="0.2" stroke="#000" stroke-width="0.2" >70</text>
<line x1="477.50" y1="551.45" x2="477.50" y2="556.95" stroke="#000" stroke-width="1.4" />
<text transform="translate(477.50,571.25)" font-size="11.4" text-anchor="middle" font-weight="normal" fill="#000" letter-spacing="0.2" stroke="#000" stroke-width="0.2" >80</text>
<line x1="495.00" y1="551.45" x2="495.00" y2="556.95" stroke="#000" stroke-width="1.4" />
<text transform="translate(495.00,571.25)" font-size="11.4" text-anchor="middle" font-weight="normal" fill="#000" letter-spacing="0.2" stroke="#000" stroke-width="0.2" >90</text>
<line x1="329.40" y1="419.60" x2="334.60" y2="419.60" stroke="#000" stroke-width="1.4" />
<text transform="translate(325.10,423.35)" font-size="11.1" text-anchor="end" font-weight="normal" fill="#000" letter-spacing="0.25" stroke="#000" stroke-width="0.2" >1.00</text>
<line x1="329.40" y1="451.10" x2="334.60" y2="451.10" stroke="#000" stroke-width="1.4" />
<text transform="translate(325.10,454.85)" font-size="11.1" text-anchor="end" font-weight="normal" fill="#000" letter-spacing="0.25" stroke="#000" stroke-width="0.2" >0.75</text>
<line x1="329.40" y1="482.60" x2="334.60" y2="482.60" stroke="#000" stroke-width="1.4" />
<text transform="translate(325.10,486.35)" font-size="11.1" text-anchor="end" font-weight="normal" fill="#000" letter-spacing="0.25" stroke="#000" stroke-width="0.2" >0.50</text>
<line x1="329.40" y1="514.10" x2="334.60" y2="514.10" stroke="#000" stroke-width="1.4" />
<text transform="translate(325.10,517.85)" font-size="11.1" text-anchor="end" font-weight="normal" fill="#000" letter-spacing="0.25" stroke="#000" stroke-width="0.2" >0.25</text>
<line x1="329.40" y1="545.60" x2="334.60" y2="545.60" stroke="#000" stroke-width="1.4" />
<text transform="translate(325.10,549.35)" font-size="11.1" text-anchor="end" font-weight="normal" fill="#000" letter-spacing="0.25" stroke="#000" stroke-width="0.2" >0.00</text>
<text transform="translate(421.47,590.05) scale(0.6989781021897811,1)" font-size="13.7" text-anchor="middle" font-weight="normal" fill="#000" stroke="#000" stroke-width="0.4" >Months</text>
<text transform="translate(293.20,482.83) rotate(-90) scale(0.7077153284671533,1)" font-size="13.7" text-anchor="middle" fill="#000" stroke="#000" stroke-width="0.4">Survival probability</text>
<text transform="translate(421.80,404.90)" font-size="13.7" text-anchor="middle" font-weight="normal" fill="#000" stroke="#000" stroke-width="0.15" >Combined Cluster Groups</text>
<path d="M338.00,419.60H339.50V421.70H340.50V424.00H341.50V426.50H345.70V431.00H346.50V433.00H348.50V438.00H349.50V440.50H352.00V444.60H359.90V449.25H366.50V452.10H372.40V454.60H374.60V457.40H376.00V459.60H377.60V463.40H379.90V468.40H385.50V471.00H386.50V473.60H389.50V476.00H393.00V478.40H394.90V480.60H398.30V485.40H402.40V488.00H404.25V490.40H405.50V492.80H437.30V498.30H446.50V509.20H469.00V527.10H486.30V536.70H494.00V545.40H494.00" fill="none" stroke="#2C4D8E" stroke-width="1.3" stroke-linejoin="miter"/>
<path d="M411.00,490.50V495.10M413.10,490.50V495.10M420.40,490.50V495.10M422.75,490.50V495.10M425.00,490.50V495.10M430.20,490.50V495.10M431.20,490.50V495.10M456.50,506.90V511.50M463.80,506.90V511.50" fill="none" stroke="#2C4D8E" stroke-width="0.98"/>
<path d="M338.00,419.60H339.00V421.80H340.00V424.20H341.00V429.00H342.50V431.50H344.50V434.00H345.50V436.40H346.00V438.80H347.20V441.20H350.00V446.00H351.20V448.50H353.30V454.00H354.60V459.00H355.50V462.80H356.75V466.50H360.20V470.30H362.40V474.00H366.40V480.30H368.00V484.60H370.80V488.40H372.50V490.00H376.50V495.90H382.70V505.40H385.90V510.90H390.90V514.60H392.20V520.90H398.70V524.00H416.00V527.50H424.50V531.80H508.60" fill="none" stroke="#B4142F" stroke-width="1.3" stroke-linejoin="miter"/>
<path d="M375.75,487.70V492.30M379.40,493.60V498.20M382.25,493.60V498.20M401.00,521.70V526.30M423.50,525.20V529.80M428.30,529.50V534.10M430.20,529.50V534.10" fill="none" stroke="#B4142F" stroke-width="0.98"/>
<text transform="translate(404.00,428.10)" font-size="9.2" text-anchor="start" font-weight="normal" fill="#000" stroke="#000" stroke-width="0.1" >Cluster Risk Group</text>
<line x1="409.00" y1="442.30" x2="418.20" y2="442.30" stroke="#2C4D8E" stroke-width="1.3" />
<line x1="413.60" y1="439.70" x2="413.60" y2="444.90" stroke="#2C4D8E" stroke-width="1.3" />
<text transform="translate(422.80,444.90)" font-size="9.3" text-anchor="start" font-weight="normal" fill="#000" stroke="#000" stroke-width="0.1" >Low−Risk (n = 56)</text>
<line x1="409.00" y1="458.50" x2="418.20" y2="458.50" stroke="#B4142F" stroke-width="1.3" />
<line x1="413.60" y1="455.90" x2="413.60" y2="461.10" stroke="#B4142F" stroke-width="1.3" />
<text transform="translate(422.80,461.10)" font-size="9.3" text-anchor="start" font-weight="normal" fill="#000" stroke="#000" stroke-width="0.1" >High−Risk (n = 52)</text>
<text transform="translate(339.20,536.00)" font-size="11.25" text-anchor="start" font-weight="normal" fill="#000" stroke="#000" stroke-width="0.2" >p = 0.0035</text>
<rect x="79.60" y="627.70" width="174.35" height="137.70" fill="none" stroke="#000" stroke-width="1.4"/>
<line x1="82.50" y1="765.40" x2="82.50" y2="770.90" stroke="#000" stroke-width="1.4" />
<text transform="translate(82.50,785.20)" font-size="11.4" text-anchor="middle" font-weight="normal" fill="#000" letter-spacing="0.2" stroke="#000" stroke-width="0.2" >0</text>
<line x1="100.00" y1="765.40" x2="100.00" y2="770.90" stroke="#000" stroke-width="1.4" />
<text transform="translate(100.00,785.20)" font-size="11.4" text-anchor="middle" font-weight="normal" fill="#000" letter-spacing="0.2" stroke="#000" stroke-width="0.2" >10</text>
<line x1="117.50" y1="765.40" x2="117.50" y2="770.90" stroke="#000" stroke-width="1.4" />
<text transform="translate(117.50,785.20)" font-size="11.4" text-anchor="middle" font-weight="normal" fill="#000" letter-spacing="0.2" stroke="#000" stroke-width="0.2" >20</text>
<line x1="135.00" y1="765.40" x2="135.00" y2="770.90" stroke="#000" stroke-width="1.4" />
<text transform="translate(135.00,785.20)" font-size="11.4" text-anchor="middle" font-weight="normal" fill="#000" letter-spacing="0.2" stroke="#000" stroke-width="0.2" >30</text>
<line x1="152.50" y1="765.40" x2="152.50" y2="770.90" stroke="#000" stroke-width="1.4" />
<text transform="translate(152.50,785.20)" font-size="11.4" text-anchor="middle" font-weight="normal" fill="#000" letter-spacing="0.2" stroke="#000" stroke-width="0.2" >40</text>
<line x1="170.00" y1="765.40" x2="170.00" y2="770.90" stroke="#000" stroke-width="1.4" />
<text transform="translate(170.00,785.20)" font-size="11.4" text-anchor="middle" font-weight="normal" fill="#000" letter-spacing="0.2" stroke="#000" stroke-width="0.2" >50</text>
<line x1="187.50" y1="765.40" x2="187.50" y2="770.90" stroke="#000" stroke-width="1.4" />
<text transform="translate(187.50,785.20)" font-size="11.4" text-anchor="middle" font-weight="normal" fill="#000" letter-spacing="0.2" stroke="#000" stroke-width="0.2" >60</text>
<line x1="205.00" y1="765.40" x2="205.00" y2="770.90" stroke="#000" stroke-width="1.4" />
<text transform="translate(205.00,785.20)" font-size="11.4" text-anchor="middle" font-weight="normal" fill="#000" letter-spacing="0.2" stroke="#000" stroke-width="0.2" >70</text>
<line x1="222.50" y1="765.40" x2="222.50" y2="770.90" stroke="#000" stroke-width="1.4" />
<text transform="translate(222.50,785.20)" font-size="11.4" text-anchor="middle" font-weight="normal" fill="#000" letter-spacing="0.2" stroke="#000" stroke-width="0.2" >80</text>
<line x1="240.00" y1="765.40" x2="240.00" y2="770.90" stroke="#000" stroke-width="1.4" />
<text transform="translate(240.00,785.20)" font-size="11.4" text-anchor="middle" font-weight="normal" fill="#000" letter-spacing="0.2" stroke="#000" stroke-width="0.2" >90</text>
<line x1="74.40" y1="633.50" x2="79.60" y2="633.50" stroke="#000" stroke-width="1.4" />
<text transform="translate(70.10,637.25)" font-size="11.1" text-anchor="end" font-weight="normal" fill="#000" letter-spacing="0.25" stroke="#000" stroke-width="0.2" >1.00</text>
<line x1="74.40" y1="664.98" x2="79.60" y2="664.98" stroke="#000" stroke-width="1.4" />
<text transform="translate(70.10,668.73)" font-size="11.1" text-anchor="end" font-weight="normal" fill="#000" letter-spacing="0.25" stroke="#000" stroke-width="0.2" >0.75</text>
<line x1="74.40" y1="696.45" x2="79.60" y2="696.45" stroke="#000" stroke-width="1.4" />
<text transform="translate(70.10,700.20)" font-size="11.1" text-anchor="end" font-weight="normal" fill="#000" letter-spacing="0.25" stroke="#000" stroke-width="0.2" >0.50</text>
<line x1="74.40" y1="727.93" x2="79.60" y2="727.93" stroke="#000" stroke-width="1.4" />
<text transform="translate(70.10,731.68)" font-size="11.1" text-anchor="end" font-weight="normal" fill="#000" letter-spacing="0.25" stroke="#000" stroke-width="0.2" >0.25</text>
<line x1="74.40" y1="759.40" x2="79.60" y2="759.40" stroke="#000" stroke-width="1.4" />
<text transform="translate(70.10,763.15)" font-size="11.1" text-anchor="end" font-weight="normal" fill="#000" letter-spacing="0.25" stroke="#000" stroke-width="0.2" >0.00</text>
<text transform="translate(166.47,804.00) scale(0.6989781021897811,1)" font-size="13.7" text-anchor="middle" font-weight="normal" fill="#000" stroke="#000" stroke-width="0.4" >Months</text>
<text transform="translate(38.20,696.85) rotate(-90) scale(0.7077153284671533,1)" font-size="13.7" text-anchor="middle" fill="#000" stroke="#000" stroke-width="0.4">Survival probability</text>
<text transform="translate(166.50,619.00)" font-size="13.7" text-anchor="middle" font-weight="normal" fill="#000" stroke="#000" stroke-width="0.15" >IPSS−R Int/High/VeryHigh Risk</text>
<path d="M83.00,633.50H83.30V638.50H85.25V643.50H90.25V648.60H91.10V653.70H93.00V658.70H93.60V663.60H96.90V669.00H104.75V673.90H111.25V679.25H117.50V684.60H119.75V690.25H121.50V695.25H125.25V700.70H131.20V705.90H143.40V711.60H144.00V716.60H147.00V721.60H148.40V723.80H150.00V728.00H208.60" fill="none" stroke="#2C4D8E" stroke-width="1.3" stroke-linejoin="miter"/>
<path d="M156.00,725.70V730.30M175.20,725.70V730.30M191.40,725.70V730.30M201.60,725.70V730.30M208.40,725.70V730.30" fill="none" stroke="#2C4D8E" stroke-width="0.98"/>
<path d="M83.00,633.50H86.50V645.40H87.00V649.50H89.50V653.75H91.10V657.90H94.90V666.40H96.90V670.30H99.75V683.40H106.25V687.75H110.00V692.75H112.25V697.75H115.00V702.10H116.25V707.90H121.20V713.30H128.00V719.60H130.40V726.00H131.60V733.00H137.00V739.60H143.00V746.00H173.60" fill="none" stroke="#B4142F" stroke-width="1.3" stroke-linejoin="miter"/>
<path d="M101.50,681.10V685.70M106.00,681.10V685.70M112.10,690.45V695.05M120.60,705.60V710.20M124.40,711.00V715.60M146.00,743.70V748.30M173.40,743.70V748.30" fill="none" stroke="#B4142F" stroke-width="0.98"/>
<text transform="translate(149.00,641.80)" font-size="9.2" text-anchor="start" font-weight="normal" fill="#000" stroke="#000" stroke-width="0.1" >Cluster Risk Group</text>
<line x1="149.00" y1="656.50" x2="158.20" y2="656.50" stroke="#2C4D8E" stroke-width="1.3" />
<line x1="153.60" y1="653.90" x2="153.60" y2="659.10" stroke="#2C4D8E" stroke-width="1.3" />
<text transform="translate(162.50,659.10)" font-size="9.3" text-anchor="start" font-weight="normal" fill="#000" stroke="#000" stroke-width="0.1" >Low−Risk (n = 25)</text>
<line x1="149.00" y1="672.50" x2="158.20" y2="672.50" stroke="#B4142F" stroke-width="1.3" />
<line x1="153.60" y1="669.90" x2="153.60" y2="675.10" stroke="#B4142F" stroke-width="1.3" />
<text transform="translate(162.50,675.10)" font-size="9.3" text-anchor="start" font-weight="normal" fill="#000" stroke="#000" stroke-width="0.1" >High−Risk (n = 31)</text>
<text transform="translate(84.20,749.80)" font-size="11.25" text-anchor="start" font-weight="normal" fill="#000" stroke="#000" stroke-width="0.2" >p = 0.12</text>
<rect x="334.60" y="627.70" width="174.35" height="137.70" fill="none" stroke="#000" stroke-width="1.4"/>
<line x1="337.50" y1="765.40" x2="337.50" y2="770.90" stroke="#000" stroke-width="1.4" />
<text transform="translate(337.50,785.20)" font-size="11.4" text-anchor="middle" font-weight="normal" fill="#000" letter-spacing="0.2" stroke="#000" stroke-width="0.2" >0</text>
<line x1="355.00" y1="765.40" x2="355.00" y2="770.90" stroke="#000" stroke-width="1.4" />
<text transform="translate(355.00,785.20)" font-size="11.4" text-anchor="middle" font-weight="normal" fill="#000" letter-spacing="0.2" stroke="#000" stroke-width="0.2" >10</text>
<line x1="372.50" y1="765.40" x2="372.50" y2="770.90" stroke="#000" stroke-width="1.4" />
<text transform="translate(372.50,785.20)" font-size="11.4" text-anchor="middle" font-weight="normal" fill="#000" letter-spacing="0.2" stroke="#000" stroke-width="0.2" >20</text>
<line x1="390.00" y1="765.40" x2="390.00" y2="770.90" stroke="#000" stroke-width="1.4" />
<text transform="translate(390.00,785.20)" font-size="11.4" text-anchor="middle" font-weight="normal" fill="#000" letter-spacing="0.2" stroke="#000" stroke-width="0.2" >30</text>
<line x1="407.50" y1="765.40" x2="407.50" y2="770.90" stroke="#000" stroke-width="1.4" />
<text transform="translate(407.50,785.20)" font-size="11.4" text-anchor="middle" font-weight="normal" fill="#000" letter-spacing="0.2" stroke="#000" stroke-width="0.2" >40</text>
<line x1="425.00" y1="765.40" x2="425.00" y2="770.90" stroke="#000" stroke-width="1.4" />
<text transform="translate(425.00,785.20)" font-size="11.4" text-anchor="middle" font-weight="normal" fill="#000" letter-spacing="0.2" stroke="#000" stroke-width="0.2" >50</text>
<line x1="442.50" y1="765.40" x2="442.50" y2="770.90" stroke="#000" stroke-width="1.4" />
<text transform="translate(442.50,785.20)" font-size="11.4" text-anchor="middle" font-weight="normal" fill="#000" letter-spacing="0.2" stroke="#000" stroke-width="0.2" >60</text>
<line x1="460.00" y1="765.40" x2="460.00" y2="770.90" stroke="#000" stroke-width="1.4" />
<text transform="translate(460.00,785.20)" font-size="11.4" text-anchor="middle" font-weight="normal" fill="#000" letter-spacing="0.2" stroke="#000" stroke-width="0.2" >70</text>
<line x1="477.50" y1="765.40" x2="477.50" y2="770.90" stroke="#000" stroke-width="1.4" />
<text transform="translate(477.50,785.20)" font-size="11.4" text-anchor="middle" font-weight="normal" fill="#000" letter-spacing="0.2" stroke="#000" stroke-width="0.2" >80</text>
<line x1="495.00" y1="765.40" x2="495.00" y2="770.90" stroke="#000" stroke-width="1.4" />
<text transform="translate(495.00,785.20)" font-size="11.4" text-anchor="middle" font-weight="normal" fill="#000" letter-spacing="0.2" stroke="#000" stroke-width="0.2" >90</text>
<line x1="329.40" y1="633.50" x2="334.60" y2="633.50" stroke="#000" stroke-width="1.4" />
<text transform="translate(325.10,637.25)" font-size="11.1" text-anchor="end" font-weight="normal" fill="#000" letter-spacing="0.25" stroke="#000" stroke-width="0.2" >1.00</text>
<line x1="329.40" y1="664.98" x2="334.60" y2="664.98" stroke="#000" stroke-width="1.4" />
<text transform="translate(325.10,668.73)" font-size="11.1" text-anchor="end" font-weight="normal" fill="#000" letter-spacing="0.25" stroke="#000" stroke-width="0.2" >0.75</text>
<line x1="329.40" y1="696.45" x2="334.60" y2="696.45" stroke="#000" stroke-width="1.4" />
<text transform="translate(325.10,700.20)" font-size="11.1" text-anchor="end" font-weight="normal" fill="#000" letter-spacing="0.25" stroke="#000" stroke-width="0.2" >0.50</text>
<line x1="329.40" y1="727.93" x2="334.60" y2="727.93" stroke="#000" stroke-width="1.4" />
<text transform="translate(325.10,731.68)" font-size="11.1" text-anchor="end" font-weight="normal" fill="#000" letter-spacing="0.25" stroke="#000" stroke-width="0.2" >0.25</text>
<line x1="329.40" y1="759.40" x2="334.60" y2="759.40" stroke="#000" stroke-width="1.4" />
<text transform="translate(325.10,763.15)" font-size="11.1" text-anchor="end" font-weight="normal" fill="#000" letter-spacing="0.25" stroke="#000" stroke-width="0.2" >0.00</text>
<text transform="translate(421.47,804.00) scale(0.6989781021897811,1)" font-size="13.7" text-anchor="middle" font-weight="normal" fill="#000" stroke="#000" stroke-width="0.4" >Months</text>
<text transform="translate(293.20,696.85) rotate(-90) scale(0.7077153284671533,1)" font-size="13.7" text-anchor="middle" fill="#000" stroke="#000" stroke-width="0.4">Survival probability</text>
<text transform="translate(421.30,619.00)" font-size="13.7" text-anchor="middle" font-weight="normal" fill="#000" stroke="#000" stroke-width="0.15" >IPSS−R Low/VeryLow Risk</text>
<path d="M338.00,633.50H342.00V637.90H346.10V641.60H348.60V645.40H351.10V649.50H359.50V653.75H374.25V658.50H377.40V662.90H380.25V667.10H385.25V671.60H389.60V675.90H393.75V680.25H395.00V684.40H404.60V689.00H438.00V699.40H446.70V719.00H469.00V739.40H486.20V749.80H494.40V758.80H494.40" fill="none" stroke="#2C4D8E" stroke-width="1.3" stroke-linejoin="miter"/>
<path d="M411.00,686.70V691.30M413.40,686.70V691.30M420.60,686.70V691.30M423.40,686.70V691.30M426.00,686.70V691.30M431.10,686.70V691.30M432.10,686.70V691.30" fill="none" stroke="#2C4D8E" stroke-width="0.98"/>
<path d="M338.00,633.50H339.25V639.50H345.50V645.40H347.75V651.25H353.25V657.50H353.70V663.50H354.80V669.50H355.50V675.50H360.25V681.50H360.90V687.40H366.25V693.40H366.90V699.40H376.40V705.00H382.60V711.10H383.40V717.00H391.00V723.00H392.60V729.00H416.00V735.00H424.00V743.00H508.60" fill="none" stroke="#B4142F" stroke-width="1.3" stroke-linejoin="miter"/>
<path d="M423.40,732.70V737.30M430.60,740.70V745.30" fill="none" stroke="#B4142F" stroke-width="0.98"/>
<text transform="translate(404.00,641.80)" font-size="9.2" text-anchor="start" font-weight="normal" fill="#000" stroke="#000" stroke-width="0.1" >Cluster Risk Group</text>
<line x1="409.00" y1="656.50" x2="418.20" y2="656.50" stroke="#2C4D8E" stroke-width="1.3" />
<line x1="413.60" y1="653.90" x2="413.60" y2="659.10" stroke="#2C4D8E" stroke-width="1.3" />
<text transform="translate(422.80,659.10)" font-size="9.3" text-anchor="start" font-weight="normal" fill="#000" stroke="#000" stroke-width="0.1" >Low−Risk (n = 31)</text>
<line x1="409.00" y1="672.50" x2="418.20" y2="672.50" stroke="#B4142F" stroke-width="1.3" />
<line x1="413.60" y1="669.90" x2="413.60" y2="675.10" stroke="#B4142F" stroke-width="1.3" />
<text transform="translate(422.80,675.10)" font-size="9.3" text-anchor="start" font-weight="normal" fill="#000" stroke="#000" stroke-width="0.1" >High−Risk (n = 21)</text>
<text transform="translate(339.20,749.80)" font-size="11.25" text-anchor="start" font-weight="normal" fill="#000" stroke="#000" stroke-width="0.2" >p = 0.025</text>
</svg>
</body>
</html>
